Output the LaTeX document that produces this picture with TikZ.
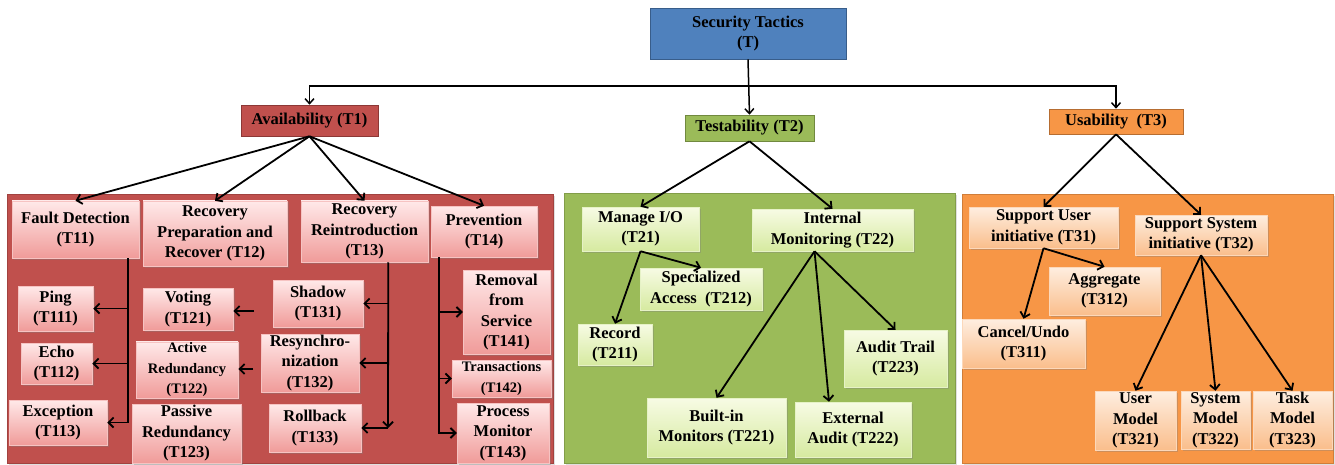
\documentclass[tikz,border=0pt]{standalone}
\usepackage{fontspec}
\setmainfont{Liberation Serif}
\usetikzlibrary{arrows.meta,shadows}
\definecolor{cBlue}{RGB}{79,129,189}
\definecolor{cBlueD}{RGB}{56,93,138}
\definecolor{cRed}{RGB}{192,80,77}
\definecolor{cRedD}{RGB}{140,56,54}
\definecolor{cGreen}{RGB}{155,187,89}
\definecolor{cGreenD}{RGB}{113,137,63}
\definecolor{cOrange}{RGB}{247,150,70}
\definecolor{cOrangeD}{RGB}{182,109,49}
\definecolor{rTop}{RGB}{255,233,233}
\definecolor{rBot}{RGB}{240,155,153}
\definecolor{gTop}{RGB}{247,251,228}
\definecolor{gBot}{RGB}{214,234,160}
\definecolor{oTop}{RGB}{254,238,224}
\definecolor{oBot}{RGB}{250,190,140}
\newcommand\mybox[7]{\node[#2, minimum width={(#5-#3)*1pt}, minimum height={(#6-#4)*1pt}] (#1) at ({(#3+#5)/2},{(#4+#6)/2}) {#7};}
\newcommand\smallerfont{\fontsize{14.5}{17}\selectfont}
\tikzset{
  base/.style={rectangle, inner sep=1pt, align=center, line width=0.6pt},
  headbox/.style={base, drop shadow={shadow xshift=1pt, shadow yshift=-1pt, opacity=0.3}},
  topbox/.style={headbox, fill=cBlue, draw=cBlueD},
  redhead/.style={headbox, fill=cRed, draw=cRedD},
  greenhead/.style={headbox, fill=cGreen, draw=cGreenD},
  orangehead/.style={headbox, fill=cOrange, draw=cOrangeD},
  grp/.style={rectangle, line width=1pt, inner sep=0pt, drop shadow={shadow xshift=1.5pt, shadow yshift=-1.5pt, opacity=0.25}},
  redgrp/.style={grp, fill=cRed, draw=cRedD!60!cRed},
  greengrp/.style={grp, fill=cGreen, draw=cGreenD!60!cGreen},
  orangegrp/.style={grp, fill=cOrange, draw=cOrangeD!60!cOrange},
  child/.style={base, line width=0.5pt, drop shadow={shadow xshift=1.5pt, shadow yshift=-1.5pt, opacity=0.35}},
  redchild/.style={child, top color=rTop, bottom color=rBot, draw=rBot!60!white},
  greenchild/.style={child, top color=gTop, bottom color=gBot, draw=gBot!60!white},
  orangechild/.style={child, top color=oTop, bottom color=oBot, draw=oBot!60!white},
  arr/.style={line width=1.8pt, -{Straight Barb[length=5pt,width=10pt]}},
  toparr/.style={line width=1.5pt, -{Straight Barb[length=5pt,width=9pt]}}
}
\begin{document}
\begin{tikzpicture}[x=1pt, y=-1pt, font=\fontsize{16.5}{20.5}\selectfont\bfseries]
\useasboundingbox (0,0) rectangle (1335,465);
\fill[white] (0,0) rectangle (1335,465);
% groups
\mybox{GA}{redgrp}{7}{195}{553}{463}{}
\mybox{GB}{greengrp}{564}{194}{955}{463}{}
\mybox{GC}{orangegrp}{962}{195}{1333}{463}{}
% top level
\mybox{T}{topbox}{650}{8}{846}{59}{Security Tactics\\(T)}
\mybox{T1}{redhead}{241}{105}{378}{136}{Availability (T1)}
\mybox{T2}{greenhead}{685}{115}{814}{141}{Testability (T2)}
\mybox{T3}{orangehead}{1049}{109}{1183}{134}{Usability~~(T3)}
% availability
\mybox{T11}{redchild}{12}{201}{139}{258}{Fault Detection\\(T11)}
\mybox{T12}{redchild}{143}{201}{287}{266}{Recovery\\Preparation and\\Recover (T12)}
\mybox{T13}{redchild}{301}{201}{428}{262}{Recovery\\Reintroduction\\(T13)}
\mybox{T14}{redchild}{431}{206}{537}{257}{Prevention\\(T14)}
\mybox{T111}{redchild}{18}{286}{93}{331}{Ping\\(T111)}
\mybox{T112}{redchild}{21}{343}{92}{384}{Echo\\(T112)}
\mybox{T113}{redchild}{9}{400}{107}{445}{Exception\\(T113)}
\mybox{T121}{redchild}{143}{288}{233}{330}{Voting\\(T121)}
\mybox{T122}{redchild}{136}{343}{238}{397}{\smallerfont Active\\\smallerfont Redundancy\\\smallerfont (T122)}
\mybox{T123}{redchild}{132}{404}{241}{463}{Passive\\Redundancy\\(T123)}
\mybox{T131}{redchild}{273}{280}{363}{327}{Shadow\\(T131)}
\mybox{T132}{redchild}{261}{334}{359}{392}{Resynchro-\\nization\\(T132)}
\mybox{T133}{redchild}{269}{404}{361}{452}{Rollback\\(T133)}
\mybox{T141}{redchild}{463}{270}{550}{354}{Removal\\from\\Service\\(T141)}
\mybox{T142}{redchild}{452}{360}{551}{397}{\smallerfont Transactions\\\smallerfont (T142)}
\mybox{T143}{redchild}{457}{403}{549}{463}{Process\\Monitor\\(T143)}
% testability
\mybox{T21}{greenchild}{582}{207}{699}{251}{Manage I/O\\(T21)}
\mybox{T22}{greenchild}{752}{209}{913}{251}{Internal\\Monitoring (T22)}
\mybox{T212}{greenchild}{640}{268}{762}{310}{Specialized\\Access~~(T212)}
\mybox{T211}{greenchild}{578}{324}{652}{365}{Record\\(T211)}
\mybox{T223}{greenchild}{844}{330}{947}{387}{Audit Trail\\(T223)}
\mybox{T221}{greenchild}{647}{398}{786}{457}{Built-in\\Monitors (T221)}
\mybox{T222}{greenchild}{795}{402}{911}{457}{External\\Audit (T222)}
% usability
\mybox{T31}{orangechild}{969}{207}{1118}{248}{Support User\\initiative (T31)}
\mybox{T32}{orangechild}{1135}{215}{1267}{255}{Support System\\initiative (T32)}
\mybox{T312}{orangechild}{1049}{267}{1160}{315}{Aggregate\\(T312)}
\mybox{T311}{orangechild}{962}{319}{1085}{368}{Cancel/Undo\\(T311)}
\mybox{T321}{orangechild}{1095}{391}{1176}{450}{User\\Model\\(T321)}
\mybox{T322}{orangechild}{1181}{391}{1250}{449}{System\\Model\\(T322)}
\mybox{T323}{orangechild}{1253}{391}{1332}{449}{Task\\Model\\(T323)}
% top connectors
\coordinate (hub) at (748,86);
\draw[toparr] (T.south) -- (T2.north);
\draw[toparr] (hub) -| (T1.north);
\draw[toparr] (hub) -| (T3.north);
% availability connectors
\foreach \c in {T11,T12,T13,T14} \draw[arr] (T1.south) -- (\c.north);
\coordinate (fdv) at ([xshift=-11pt]T11.south east);
\draw[arr] (fdv) |- (T113.east);
\draw[arr] (fdv |- T111.east) -- (T111.east);
\draw[arr] (fdv |- T112.east) -- (T112.east);
\coordinate (vs) at (254,311);
\coordinate (as) at (253,369);
\draw[arr] (vs) -- (vs -| T121.east);
\draw[arr] (as) -- (as -| T122.east);
\coordinate (t13v) at ([xshift=-40pt]T13.south east);
\coordinate (t13e) at (388,428);
\draw[arr] (t13v) -- (t13e);
\draw[arr] (t13e) -- (t13e -| T133.east);
\draw[arr] (t13v |- T131.east) -- (T131.east);
\draw[arr] (t13v |- T132.east) -- (T132.east);
\coordinate (t14v) at ([xshift=8pt]T14.south west);
\draw[arr] (t14v) |- (T143.west);
\draw[arr] (t14v |- T141.west) -- (T141.west);
\draw[arr] (t14v |- T142.west) -- (T142.west);
% testability connectors
\draw[arr] (T2.south) -- (T21.north);
\draw[arr] (T2.south) -- (T22.north);
\draw[arr] (T21.south) -- (T212.north);
\draw[arr] (T21.south) -- (T211.north);
\coordinate (t22s) at ([xshift=-18pt]T22.south);
\draw[arr] (t22s) -- (T221.north);
\draw[arr] (t22s) -- ([xshift=-24pt]T222.north);
\draw[arr] (t22s) -- (T223.north);
% usability connectors
\draw[arr] (T3.south) -- (T31.north);
\draw[arr] (T3.south) -- (T32.north);
\draw[arr] (T31.south) -- (T312.north);
\draw[arr] (T31.south) -- (T311.north);
\foreach \c in {T321,T322,T323} \draw[arr] (T32.south) -- (\c.north);
\end{tikzpicture}
\end{document}
